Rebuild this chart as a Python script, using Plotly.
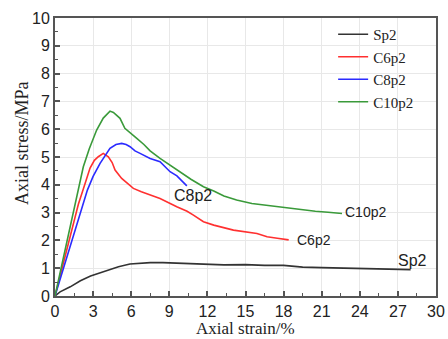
import plotly.graph_objects as go

# Stress-strain curves (axial strain in %, axial stress in MPa)
sp2_strain = [0, 0.4, 1.2, 2.0, 2.8, 3.6, 4.3, 5.0, 5.9, 6.7, 7.5, 8.5, 10.0, 11.5, 13.3,
              15.0, 16.5, 18.0, 19.5, 21.0, 22.5, 24.0, 25.5, 27.0, 28.0]
sp2_stress = [0, 0.15, 0.33, 0.55, 0.72, 0.84, 0.94, 1.05, 1.15, 1.18, 1.2, 1.2, 1.18, 1.15, 1.12,
              1.13, 1.1, 1.1, 1.04, 1.02, 1.0, 0.99, 0.98, 0.96, 0.95]

c6_strain = [0, 0.9, 1.84, 2.23, 2.76, 3.1, 3.41, 3.8, 4.2, 4.5, 4.73, 5.25, 5.7, 6.17, 6.8,
             7.49, 8.27, 9.59, 10.4, 10.9, 11.3, 11.69, 12.5, 14.05, 15.9, 16.7, 17.5, 18.4]
c6_stress = [0, 1.65, 3.3, 3.85, 4.6, 4.88, 5.01, 5.13, 5.01, 4.8, 4.53, 4.23, 4.05, 3.87, 3.75,
             3.63, 3.51, 3.21, 3.05, 2.91, 2.8, 2.67, 2.55, 2.37, 2.25, 2.13, 2.08, 2.02]

c8_strain = [0, 1.2, 2.3, 2.55, 3.0, 3.55, 4.33, 4.8, 5.25, 5.6, 5.91, 6.3, 6.7, 7.49, 8.27,
             9.06, 9.6, 10.0, 10.38]
c8_stress = [0, 1.8, 3.45, 3.81, 4.3, 4.77, 5.31, 5.45, 5.49, 5.45, 5.37, 5.22, 5.13, 4.95, 4.83,
             4.47, 4.32, 4.12, 3.96]

c10_strain = [0, 0.9, 1.65, 2.23, 2.7, 3.28, 3.8, 4.33, 4.6, 5.12, 5.5, 6.0, 6.44, 7.0, 7.49,
              8.27, 9.0, 9.8, 10.7, 11.69, 12.5, 13.3, 14.3, 15.5, 16.5, 17.7, 18.5, 19.5,
              20.5, 21.5, 22.6]
c10_stress = [0, 1.85, 3.45, 4.65, 5.3, 5.97, 6.4, 6.65, 6.6, 6.39, 6.03, 5.85, 5.67, 5.45, 5.22,
              4.95, 4.72, 4.48, 4.2, 3.93, 3.78, 3.6, 3.45, 3.33, 3.27, 3.21, 3.15, 3.1,
              3.05, 3.01, 2.97]

series_names = ["Sp2", "C6p2", "C8p2", "C10p2"]
series_colors = ["#333333", "#ff3030", "#2b2bff", "#3a9a3a"]
series_x = [sp2_strain, c6_strain, c8_strain, c10_strain]
series_y = [sp2_stress, c6_stress, c8_stress, c10_stress]

# End-of-curve labels: (text, strain, stress, font size)
curve_labels = [
    ("C8p2", 9.2, 3.63, 16),
    ("C6p2", 18.9, 2.01, 14),
    ("C10p2", 22.7, 3.03, 14),
    ("Sp2", 26.85, 1.29, 16),
]

x_ticks = list(range(0, 31, 3))
y_ticks = list(range(0, 11, 1))

SERIF = "Liberation Serif"
SANS = "Liberation Sans"

fig = go.Figure()
for name, color, xs, ys in zip(series_names, series_colors, series_x, series_y):
    fig.add_trace(go.Scatter(x=xs, y=ys, mode="lines", name=name,
                             line=dict(color=color, width=1.6)))

for text, xv, yv, size in curve_labels:
    fig.add_annotation(x=xv, y=yv, text=text, showarrow=False,
                       xanchor="left", yanchor="middle",
                       font=dict(family=SANS, size=size, color="#222222"))

# Axis titles
fig.add_annotation(xref="paper", yref="paper", x=0.5, y=-0.153,
                   text="Axial strain/%", showarrow=False,
                   xanchor="center", yanchor="bottom", borderpad=0,
                   font=dict(family=SERIF, size=17, color="#222222"))
fig.add_annotation(xref="paper", yref="paper", x=-0.087, y=0.55,
                   text="Axial stress/MPa", showarrow=False, textangle=-90,
                   xanchor="center", yanchor="middle",
                   font=dict(family=SERIF, size=18, color="#222222"))

axis_common = dict(
    showgrid=True, gridcolor="#e8e8e8", gridwidth=1,
    showline=True, linecolor="#555555", linewidth=2, mirror=True,
    ticks="inside", ticklen=5, tickwidth=1.5, tickcolor="#555555",
    tickfont=dict(family=SANS, size=16, color="#222222"),
    zeroline=False, automargin=False,
)

fig.update_xaxes(range=[0, 30], tickvals=x_ticks,
                 minor=dict(ticks="inside", ticklen=3, tickwidth=1.2, tickcolor="#555555",
                            dtick=1.5, tick0=0, showgrid=False),
                 **axis_common)
fig.update_yaxes(range=[0, 10], tickvals=y_ticks,
                 minor=dict(ticks="inside", ticklen=3, tickwidth=1.2, tickcolor="#555555",
                            dtick=0.5, tick0=0, showgrid=False),
                 **axis_common)

fig.update_layout(
    width=448, height=339,
    margin=dict(l=55, r=12, t=18, b=43),
    paper_bgcolor="white", plot_bgcolor="white",
    legend=dict(x=0.73, y=1.0, xanchor="left", yanchor="top",
                bgcolor="rgba(0,0,0,0)", borderwidth=0,
                font=dict(family=SERIF, size=15, color="#222222"),
                tracegroupgap=0, itemwidth=30),
)

fig.write_html("out.html")
